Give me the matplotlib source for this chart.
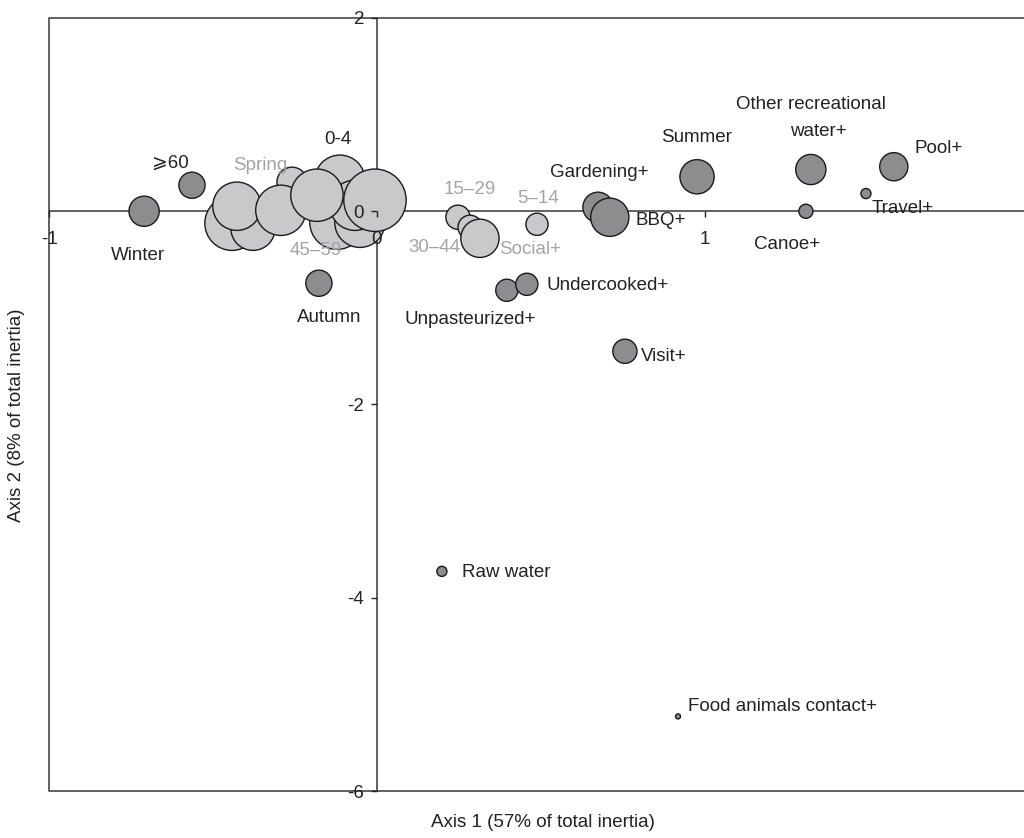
import numpy as np
import matplotlib.pyplot as plt
from matplotlib.lines import Line2D

plt.rcParams['font.family'] = ['Liberation Sans', 'DejaVu Sans']

# dark points (exposures / seasons)
dark_names = ["Winter", "60+", "Autumn", "Unpasteurized+", "Undercooked+", "Gardening+",
              "BBQ+", "Summer", "Other recreational water+", "Pool+", "Travel+", "Canoe+",
              "Visit+", "Raw water", "Food animals contact+"]
dark_x = [-0.710, -0.564, -0.177, 0.396, 0.457, 0.674, 0.710, 0.976, 1.323, 1.576, 1.491,
          1.308, 0.756, 0.198, 0.918]
dark_y = [0.0, 0.269, -0.745, -0.818, -0.756, 0.041, -0.062, 0.357, 0.432, 0.461, 0.183,
          0.0, -1.449, -3.727, -5.228]
dark_mass = [15, 13, 13, 11, 11, 15, 19, 17, 15, 14, 5, 7, 12, 5, 2.5]

# light points (reference categories / age groups)
light_x = [-0.442, -0.378, -0.427, -0.259, -0.293, -0.113, -0.122, -0.052, -0.067, -0.183,
           -0.006, 0.247, 0.284, 0.314, 0.488]
light_y = [-0.124, -0.176, 0.052, 0.300, 0.010, 0.321, -0.114, -0.114, 0.062, 0.166,
           0.114, -0.062, -0.166, -0.280, -0.135]
light_mass = [27, 22, 24, 15, 25, 25, 27, 25, 25, 26, 31, 12, 12, 19, 11]

fig = plt.figure(figsize=(10.24, 8.38), dpi=100)
ax = fig.add_axes([49/1024, 1-791/838, 1-49/1024, (791-18)/838])

def sz(m):
    return (1.45*np.array(m))**2

ax.scatter(light_x, light_y, s=sz(light_mass), c="#c9c9cb", edgecolors="#1a1a1a",
           linewidths=1, zorder=3)
ax.scatter(dark_x, dark_y, s=sz(dark_mass), c="#8d8d90", edgecolors="#1a1a1a",
           linewidths=1, zorder=3)

ax.set_xlim(-1, 1.973)
ax.set_ylim(-6, 2)

# axes crossing at the origin
ax.spines['left'].set_position(('data', 0))
ax.spines['bottom'].set_position(('data', 0))
ax.spines['right'].set_visible(False)
ax.spines['top'].set_visible(False)
for s in ['left', 'bottom']:
    ax.spines[s].set_color("#555555")
    ax.spines[s].set_linewidth(1.3)
    ax.spines[s].set_zorder(1)

ax.set_xticks([-1, 0, 1])
ax.set_xticklabels(["-1", "0", "1"])
ax.set_yticks([-6, -4, -2, 0, 2])
ax.set_yticklabels(["-6", "-4", "-2", "0", "2"])
ax.tick_params(axis='both', labelsize=13.5, colors="#222222", length=4.3, width=1)
ax.tick_params(axis='x', pad=10)
ax.tick_params(axis='y', pad=5)
ax.xaxis.set_zorder(5)
ax.yaxis.set_zorder(5)

# outer frame (top, left, bottom)
ax.add_line(Line2D([1, 0, 0, 1], [1, 1, 0, 0], transform=ax.transAxes, color="#555555",
                   linewidth=1.3, clip_on=False, zorder=1))

black = "#222222"
grey = "#a4a4a4"
labels = [
    ("Winter", -0.730, -0.455, 'center', black),
    ("\u2a7e60", -0.630, 0.500, 'center', black),
    ("Spring", -0.355, 0.476, 'center', grey),
    ("0-4", -0.120, 0.742, 'center', black),
    ("45\u201359", -0.186, -0.411, 'center', grey),
    ("Autumn", -0.145, -1.100, 'center', black),
    ("15\u201329", 0.284, 0.228, 'center', grey),
    ("5\u201314", 0.491, 0.135, 'center', grey),
    ("30\u201344", 0.174, -0.373, 'center', grey),
    ("Social+", 0.466, -0.393, 'center', grey),
    ("Gardening+", 0.677, 0.396, 'center', black),
    ("BBQ+", 0.787, -0.100, 'left', black),
    ("Undercooked+", 0.517, -0.766, 'left', black),
    ("Unpasteurized+", 0.284, -1.118, 'center', black),
    ("Visit+", 0.805, -1.501, 'left', black),
    ("Summer", 0.976, 0.766, 'center', black),
    ("Other recreational", 1.322, 1.108, 'center', black),
    ("water+", 1.345, 0.821, 'center', black),
    ("Pool+", 1.640, 0.649, 'left', black),
    ("Travel+", 1.508, 0.031, 'left', black),
    ("Canoe+", 1.250, -0.342, 'center', black),
    ("Raw water", 0.259, -3.737, 'left', black),
    ("Food animals contact+", 0.948, -5.124, 'left', black),
]
for t, x, y, ha, col in labels:
    ax.text(x, y, t, ha=ha, va='center', fontsize=13.5, color=col, zorder=4)

fig.text(543/1024, 1-822/838, "Axis 1 (57% of total inertia)", ha='center', va='center',
         fontsize=13.5, color=black)
fig.text(17/1024, 1-415/838, "Axis 2 (8% of total inertia)", ha='center', va='center',
         rotation=90, fontsize=13.5, color=black)

plt.savefig("out.png", dpi=100)
